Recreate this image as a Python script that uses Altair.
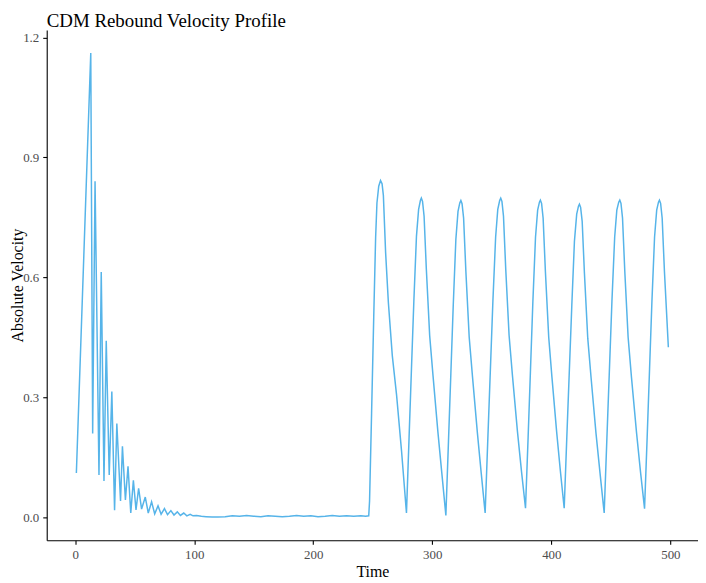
import altair as alt
import pandas as pd

# ---- data ----
early_time = [1.0, 13.1, 14.7, 16.7, 20.0, 21.9, 24.2, 26.1, 28.6, 30.8, 33.1, 35.0,
              38.1, 39.7, 42.2, 44.4, 46.7, 48.9, 51.1, 53.3, 55.8, 58.9, 61.4, 64.2,
              66.8, 69.6, 72.2, 75.0, 77.6, 80.4, 83.0, 85.8, 88.4, 91.2, 93.8, 96.6, 99.0]
early_vel = [0.110, 1.161, 0.209, 0.840, 0.105, 0.613, 0.090, 0.441, 0.105, 0.314, 0.017, 0.234,
             0.040, 0.177, 0.043, 0.127, 0.010, 0.092, 0.018, 0.072, 0.020, 0.050, 0.010, 0.038,
             0.008, 0.028, 0.007, 0.021, 0.006, 0.016, 0.005, 0.013, 0.004, 0.010, 0.003, 0.007, 0.003]

flat_time = [102, 106, 110, 115, 120, 126, 132, 138, 144, 150, 156, 162, 168, 174, 180,
             186, 192, 198, 204, 210, 216, 222, 228, 234, 240, 244]
flat_vel = [0.004, 0.002, 0.001, 0.000, 0.000, 0.001, 0.003, 0.002, 0.004, 0.002, 0.001, 0.003,
            0.002, 0.001, 0.002, 0.004, 0.002, 0.003, 0.001, 0.002, 0.004, 0.002, 0.003, 0.002,
            0.003, 0.002]

cycle_time = [
    246.6, 247.3, 249.0, 250.8, 252.4, 253.5, 255.0, 256.5, 257.8, 258.9, 260.8, 263.1, 266.4, 270.0, 274.2, 278.3,
    280.5, 282.5, 284.5, 286.7, 288.5, 290.0, 290.8, 291.8, 293.1, 295.0, 297.8, 300.6, 304.7, 308.0, 311.4,
    313.6, 315.6, 317.6, 319.8, 321.6, 323.1, 324.0, 325.0, 326.3, 328.2, 331.0, 333.8, 337.9, 341.1, 344.4,
    346.7, 348.8, 350.9, 353.2, 355.0, 356.6, 357.5, 358.5, 359.8, 361.7, 364.5, 367.3, 371.5, 374.9, 378.3,
    380.5, 382.5, 384.5, 386.7, 388.5, 390.0, 390.8, 391.8, 393.1, 395.0, 397.8, 400.5, 404.4, 407.6, 410.8,
    413.0, 415.1, 417.2, 419.4, 421.3, 422.8, 423.6, 424.6, 425.9, 427.8, 430.6, 433.4, 437.5, 440.9, 444.4,
    446.7, 448.8, 450.9, 453.2, 455.0, 456.6, 457.5, 458.5, 459.8, 461.7, 464.5, 467.3, 471.5, 474.9, 478.3,
    480.5, 482.5, 484.5, 486.7, 488.5, 490.0, 490.8, 491.8, 493.1, 495.0, 498.3]
cycle_vel = [
    0.003, 0.040, 0.260, 0.500, 0.700, 0.786, 0.828, 0.842, 0.834, 0.805, 0.661, 0.537, 0.404, 0.305, 0.164, 0.010,
    0.200, 0.371, 0.540, 0.703, 0.770, 0.792, 0.798, 0.790, 0.753, 0.620, 0.454, 0.354, 0.213, 0.110, 0.004,
    0.190, 0.360, 0.530, 0.695, 0.765, 0.786, 0.792, 0.784, 0.748, 0.615, 0.450, 0.350, 0.210, 0.110, 0.010,
    0.200, 0.370, 0.540, 0.700, 0.770, 0.792, 0.798, 0.790, 0.753, 0.620, 0.455, 0.355, 0.215, 0.115, 0.022,
    0.200, 0.370, 0.540, 0.700, 0.768, 0.788, 0.793, 0.785, 0.748, 0.615, 0.450, 0.350, 0.215, 0.115, 0.022,
    0.200, 0.365, 0.530, 0.690, 0.758, 0.778, 0.783, 0.775, 0.740, 0.610, 0.447, 0.348, 0.210, 0.110, 0.010,
    0.200, 0.370, 0.540, 0.700, 0.768, 0.788, 0.793, 0.785, 0.748, 0.615, 0.450, 0.350, 0.213, 0.113, 0.021,
    0.200, 0.370, 0.540, 0.700, 0.768, 0.788, 0.793, 0.785, 0.748, 0.615, 0.425]

x_ticks = [0, 100, 200, 300, 400, 500]
y_ticks = [0.0, 0.3, 0.6, 0.9, 1.2]
title_text = ["CDM Rebound Velocity Profile"]

df = pd.DataFrame({
    "Time": early_time + flat_time + cycle_time,
    "Velocity": early_vel + flat_vel + cycle_vel,
})

FONT = "Liberation Serif"

line = alt.Chart(df).mark_line(color="#56B4E9", strokeWidth=1.5, clip=True).encode(
    x=alt.X("Time:Q",
            scale=alt.Scale(domain=[-23.9, 523.2], nice=False, zero=False),
            axis=alt.Axis(values=x_ticks, title="Time", grid=False,
                          domainColor="black", domainWidth=1.1,
                          tickColor="black", tickWidth=1.1, tickSize=4,
                          labelFont=FONT, labelFontSize=13, labelColor="#4d4d4d",
                          labelPadding=4,
                          titleFont=FONT, titleFontSize=16, titleFontWeight="normal",
                          titleColor="black", titleX=328, titleY=37,
                          titleAlign="center", titleBaseline="alphabetic")),
    y=alt.Y("Velocity:Q",
            scale=alt.Scale(domain=[-0.058, 1.219], nice=False, zero=False),
            axis=alt.Axis(values=y_ticks, format=".1f", title="Absolute Velocity", grid=False,
                          domainColor="black", domainWidth=1.1,
                          tickColor="black", tickWidth=1.1, tickSize=4,
                          labelFont=FONT, labelFontSize=13, labelColor="#4d4d4d",
                          labelPadding=4,
                          titleFont=FONT, titleFontSize=16, titleFontWeight="normal",
                          titleColor="black", titleX=-24, titleY=257, titleAngle=270,
                          titleAlign="center", titleBaseline="alphabetic")),
)

title = alt.Chart(pd.DataFrame({"label": title_text})).mark_text(
    font=FONT, fontSize=19, color="black", align="left", baseline="alphabetic"
).encode(
    text="label:N",
    x=alt.value(0),
    y=alt.value(-3),
)

chart = alt.layer(line, title).properties(
    width=656,
    height=514,
    autosize="none",
    padding={"left": 39, "top": 20, "right": 0, "bottom": 38},
).configure(background="white").configure_view(stroke=None)

chart.save("out.html", embed_options={"renderer": "svg", "actions": False})
